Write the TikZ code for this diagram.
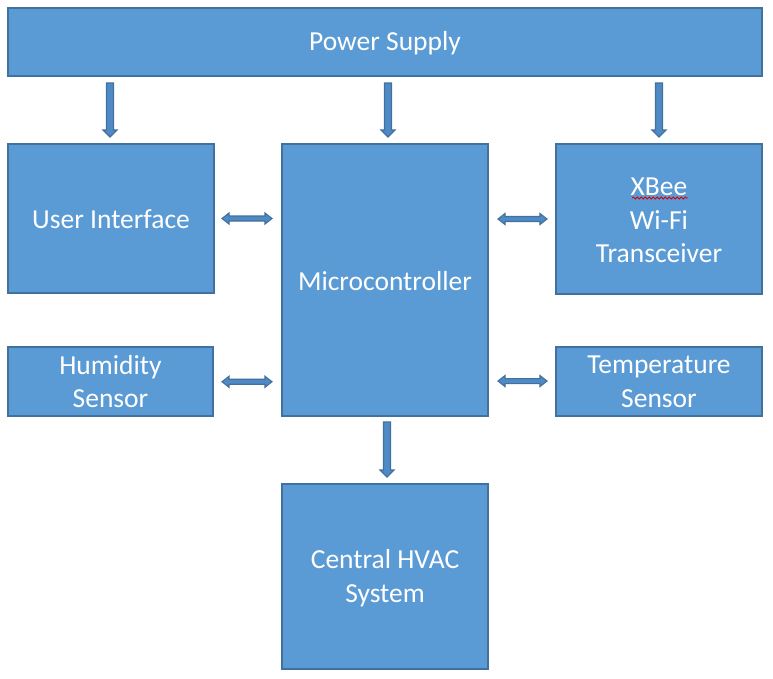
\documentclass[tikz,border=0pt]{standalone}
\usepackage{fontspec}
\setmainfont{Carlito}
\usetikzlibrary{calc,decorations.pathmorphing}
\definecolor{boxfill}{HTML}{5B9BD5}
\definecolor{boxline}{HTML}{41719C}
\definecolor{arrfill}{HTML}{4F89C6}
\tikzset{
  blk/.style={rectangle,draw=boxline,fill=boxfill,line width=2pt,outer sep=0pt,inner sep=0pt},
  txt/.style={text=white,align=center,inner sep=0pt,font=\fontsize{27.5}{33.5}\selectfont},
  barrow/.style={draw=boxline,fill=arrfill,line width=1.1pt,line join=miter},
}
\newcommand\varrow[2]{\draw[barrow] let \p1=(#1), \p2=(#2) in
  (\x1-3.5pt,\y1) -- (\x1+3.5pt,\y1) -- (\x1+3.5pt,\y2+7pt) -- (\x1+7pt,\y2+7pt) -- (\x1,\y2)
  -- (\x1-7pt,\y2+7pt) -- (\x1-3.5pt,\y2+7pt) -- cycle;}
\newcommand\harrow[2]{\draw[barrow] let \p1=(#1), \p2=(#2) in
  (\x1,\y1) -- (\x1+7pt,\y1+5.5pt) -- (\x1+7pt,\y1+2.5pt) -- (\x2-7pt,\y1+2.5pt) -- (\x2-7pt,\y1+5.5pt)
  -- (\x2,\y1) -- (\x2-7pt,\y1-5.5pt) -- (\x2-7pt,\y1-2.5pt) -- (\x1+7pt,\y1-2.5pt) -- (\x1+7pt,\y1-5.5pt) -- cycle;}
\begin{document}
\begin{tikzpicture}[x=1pt,y=-1pt]
\useasboundingbox[fill=white] (0,0) rectangle (773,678);
\node[blk,minimum width=754pt,minimum height=68pt] (ps) at (385,42) {};
\node[blk,minimum width=206pt,minimum height=149pt] (ui) at (111,218.5) {};
\node[blk,minimum width=206pt,minimum height=271.5pt] (mc) at (385,279.75) {};
\node[blk,minimum width=206pt,minimum height=150pt] (xb) at (659,219) {};
\node[blk,minimum width=205pt,minimum height=68.5pt] (hs) at (110.5,381.25) {};
\node[blk,minimum width=206pt,minimum height=68.5pt] (ts) at (659,381.25) {};
\node[blk,minimum width=206pt,minimum height=185pt] (hv) at (385,576.5) {};
% texts
\node[txt] (pst) at ([yshift=-1.5pt]ps.center) {Power Supply};
\node[txt] (uit) at ([yshift=-1pt]ui.center) {User Interface};
\node[txt] (mct) at ([yshift=-1.5pt]mc.center) {Microcontroller};
\node[txt] (xbt) at ([yshift=-1.5pt]xb.center) {XBee\\Wi-Fi\\Transceiver};
\node[txt] (hst) at ([yshift=-0.5pt]hs.center) {Humidity\\Sensor};
\node[txt] (tst) at ([yshift=-0.5pt]ts.center) {Temperature\\Sensor};
\node[txt] (hvt) at ([yshift=-1.5pt]hv.center) {Central HVAC\\System};
% spell-check squiggle under XBee
\coordinate (sq1) at ([xshift=-27pt,yshift=21pt]xb.center);
\coordinate (sq2) at ([xshift=29pt,yshift=21pt]xb.center);
\draw[red!85!black,line width=0.8pt,decorate,decoration={snake,segment length=4pt,amplitude=1pt}] (sq1) -- (sq2);
% vertical arrows
\coordinate (d1s) at ([xshift=-1pt,yshift=-7pt]ps.south -| ui.north);
\coordinate (d1e) at ([xshift=-1pt,yshift=7pt]ui.north);
\coordinate (d2s) at ([xshift=3pt,yshift=-7pt]ps.south -| mc.north);
\coordinate (d2e) at ([xshift=3pt,yshift=7pt]mc.north);
\coordinate (d3s) at ([yshift=-7pt]ps.south -| xb.north);
\coordinate (d3e) at ([yshift=7pt]xb.north);
\coordinate (d4s) at ([xshift=2pt,yshift=-6.5pt]mc.south);
\coordinate (d4e) at ([xshift=2pt,yshift=7pt]hv.north);
\varrow{d1s}{d1e}
\varrow{d2s}{d2e}
\varrow{d3s}{d3e}
\varrow{d4s}{d4e}
% horizontal arrows
\coordinate (h1s) at ([xshift=8pt]ui.east);
\coordinate (h1e) at ([xshift=-10pt]ui.east -| mc.west);
\coordinate (h2s) at ([xshift=9pt,yshift=-0.5pt]hs.east);
\coordinate (h2e) at ([xshift=-10pt,yshift=-0.5pt]hs.east -| mc.west);
\coordinate (h3s) at ([xshift=10pt]xb.west -| mc.east);
\coordinate (h3e) at ([xshift=-9pt]xb.west);
\coordinate (h4s) at ([xshift=10pt,yshift=0.2pt]ts.west -| mc.east);
\coordinate (h4e) at ([xshift=-9pt,yshift=0.2pt]ts.west);
\harrow{h1s}{h1e}
\harrow{h2s}{h2e}
\harrow{h3s}{h3e}
\harrow{h4s}{h4e}
\end{tikzpicture}
\end{document}
